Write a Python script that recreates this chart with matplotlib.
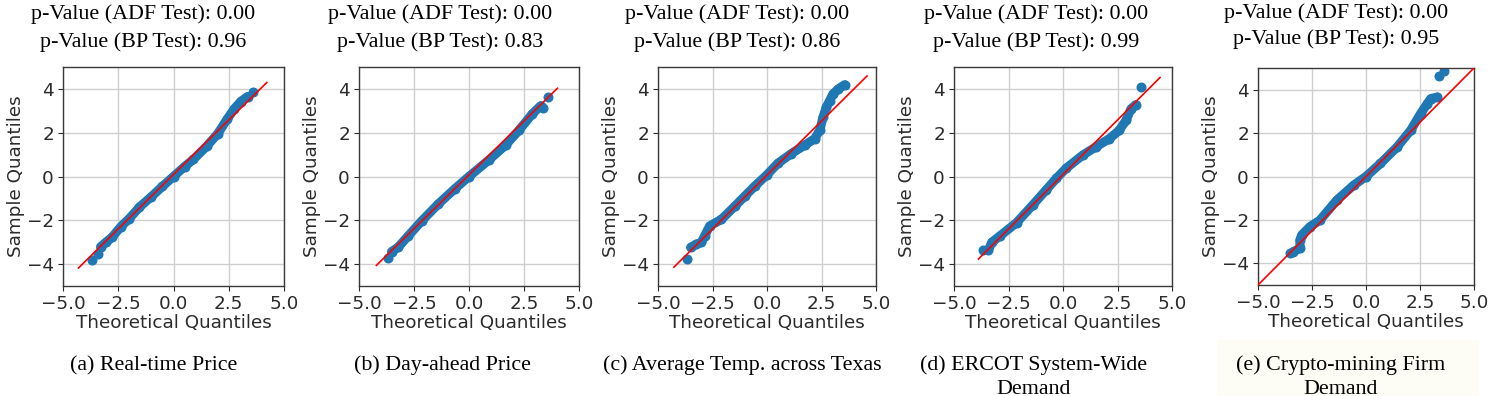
import matplotlib
matplotlib.use("Agg")
import matplotlib.pyplot as plt
from matplotlib.patches import Rectangle

W, H = 1495, 396

# ---------------- data ----------------
adf_pvalues = ["0.00", "0.00", "0.00", "0.00", "0.00"]
bp_pvalues = ["0.96", "0.83", "0.86", "0.99", "0.95"]
captions = ["(a) Real-time Price",
            "(b) Day-ahead Price",
            "(c) Average Temp. across Texas",
            "(d) ERCOT System-Wide\nDemand",
            "(e) Crypto-mining Firm\nDemand"]

# (a) Real-time Price
a_theo = [-3.30, -3.05, -2.77, -2.39, -2.00, -1.54, -1.00, -0.50, 0.00, 0.50, 0.90, 1.50, 2.00, 2.43, 2.74, 3.04, 3.35]
a_samp = [-3.21, -3.00, -2.76, -2.30, -1.92, -1.40, -0.92, -0.45, 0.00, 0.45, 0.78, 1.38, 1.95, 2.62, 3.08, 3.42, 3.65]
a_out_theo = [-3.67, -3.40, 3.58]
a_out_samp = [-3.82, -3.56, 3.88]
a_line_theo = [-4.30, 4.22]
a_line_samp = [-4.18, 4.29]

# (b) Day-ahead Price
b_theo = [-3.52, -3.22, -2.76, -2.15, -1.39, -0.63, 0.00, 0.90, 1.66, 2.27, 2.88, 3.26]
b_samp = [-3.43, -3.23, -2.71, -2.03, -1.25, -0.55, 0.00, 0.75, 1.43, 2.11, 2.86, 3.23]
b_out_theo = [-3.67, 3.35, 3.61]
b_out_samp = [-3.73, 3.12, 3.65]
b_line_theo = [-4.21, 4.02]
b_line_samp = [-4.06, 4.03]

# (c) Average Temp. across Texas
c_theo = [-3.50, -3.24, -3.01, -2.86, -2.63, -2.09, -1.48, -1.02, -0.57, 0.00, 0.50, 1.12, 1.73, 2.19, 2.42,
          2.57, 2.72, 2.87, 3.03, 3.26, 3.56]
c_samp = [-3.24, -3.09, -3.01, -2.71, -2.26, -1.96, -1.36, -0.90, -0.45, 0.08, 0.60, 1.05, 1.43, 1.73, 2.11,
          2.71, 3.16, 3.46, 3.77, 3.99, 4.19]
c_out_theo = [-3.65]
c_out_samp = [-3.77]
c_line_theo = [-4.27, 4.59]
c_line_samp = [-4.14, 4.59]

# (d) ERCOT System-Wide Demand
d_theo = [-3.42, -3.27, -2.89, -2.13, -1.37, -0.76, -0.30, 0.15, 0.91, 1.52, 2.13, 2.58, 2.89, 3.12, 3.34]
d_samp = [-3.36, -3.01, -2.71, -2.11, -1.28, -0.60, -0.08, 0.38, 0.98, 1.36, 1.73, 2.11, 2.56, 3.09, 3.28]
d_out_theo = [-3.69, 3.57]
d_out_samp = [-3.36, 4.10]
d_line_theo = [-3.88, 4.45]
d_line_samp = [-3.77, 4.52]

# (e) Crypto-mining Firm Demand
e_theo = [-3.37, -3.06, -3.06, -2.98, -2.59, -2.13, -1.35, -0.57, 0.00, 0.67, 1.44, 2.07, 2.53, 2.84, 3.00, 3.31]
e_samp = [-3.46, -3.31, -2.93, -2.70, -2.31, -2.01, -1.09, -0.40, 0.00, 0.60, 1.36, 2.13, 2.90, 3.36, 3.59, 3.66]
e_out_theo = [-3.52, 3.39, 3.62]
e_out_samp = [-3.54, 4.63, 4.86]
e_line_theo = [-5.0, 5.0]
e_line_samp = [-5.0, 5.0]

x_ticks = [-5.0, -2.5, 0.0, 2.5, 5.0]
y_ticks = [-4, -2, 0, 2, 4]

panels = [
    (a_theo, a_samp, a_out_theo, a_out_samp, a_line_theo, a_line_samp),
    (b_theo, b_samp, b_out_theo, b_out_samp, b_line_theo, b_line_samp),
    (c_theo, c_samp, c_out_theo, c_out_samp, c_line_theo, c_line_samp),
    (d_theo, d_samp, d_out_theo, d_out_samp, d_line_theo, d_line_samp),
    (e_theo, e_samp, e_out_theo, e_out_samp, e_line_theo, e_line_samp),
]

# ---------------- layout (pixels) ----------------
axes_px = [(63, 67, 284, 286), (359, 67, 579, 286), (658, 67, 876, 286),
           (954, 67, 1172, 286), (1258, 68, 1474, 285)]
title_cx = [143.5, 440, 737, 1036, 1336]
title_base = [(19, 47), (19, 47), (19, 47), (19, 47), (18, 44)]
caption_cx = [154, 443, 742, 1034, 1341]
caption_base = 370
caption_step = 23.5

BLUE = "#1f77b4"
SERIF = ["Liberation Serif", "DejaVu Serif"]
TXT = "#2b2b2b"
FS = 13.2

fig = plt.figure(figsize=(W / 100, H / 100), dpi=100)
fig.patch.set_facecolor("white")

# cream background behind caption (e)
fig.patches.append(Rectangle((1217 / W, 0), (1479 - 1217) / W, (396 - 340) / H,
                             transform=fig.transFigure, facecolor="#fdfdf6",
                             edgecolor="none", zorder=0))

for i, (tx, sy, ox, oy, lx, ly) in enumerate(panels):
    l, t, r, b = axes_px[i]
    ax = fig.add_axes([l / W, 1 - b / H, (r - l) / W, (b - t) / H])
    ax.set_axisbelow(True)
    ax.grid(True, color="#cfcfcf", linewidth=1.0)
    ax.plot(tx, sy, "-", color=BLUE, linewidth=6.6, solid_capstyle="round",
            solid_joinstyle="round", zorder=2)
    ax.plot(tx, sy, "o", color=BLUE, markersize=6.2, zorder=2)
    ax.plot(ox, oy, "o", color=BLUE, markersize=6.2, linestyle="none", zorder=2)
    ax.plot(lx, ly, "-", color="red", linewidth=1.2, zorder=3)
    ax.set_xlim(-5, 5)
    ax.set_ylim(-5, 5)
    ax.set_xticks(x_ticks)
    ax.set_xticklabels([f"{v:.1f}".replace("-", "\u2212") for v in x_ticks])
    ax.set_yticks(y_ticks)
    ax.set_yticklabels([f"{v}".replace("-", "\u2212") for v in y_ticks])
    ax.tick_params(labelsize=FS, colors=TXT, length=3.5, width=0.8, pad=3)
    ax.set_xlabel("Theoretical Quantiles", fontsize=FS, color=TXT, labelpad=1)
    ax.set_ylabel("Sample Quantiles", fontsize=FS, color=TXT, labelpad=1)
    for sp in ax.spines.values():
        sp.set_color("#3a3a3a")
        sp.set_linewidth(1.0)

    b1, b2 = title_base[i]
    fig.text(title_cx[i] / W, 1 - b1 / H, f"p-Value (ADF Test): {adf_pvalues[i]}",
             ha="center", va="baseline", family=SERIF, fontsize=15.8, color="black")
    fig.text(title_cx[i] / W, 1 - b2 / H, f"p-Value (BP Test): {bp_pvalues[i]}",
             ha="center", va="baseline", family=SERIF, fontsize=15.8, color="black")

    for k, line in enumerate(captions[i].split("\n")):
        fig.text(caption_cx[i] / W, 1 - (caption_base + k * caption_step) / H, line,
                 ha="center", va="baseline", family=SERIF, fontsize=15.8, color="black")

fig.savefig("out.png", dpi=100)
